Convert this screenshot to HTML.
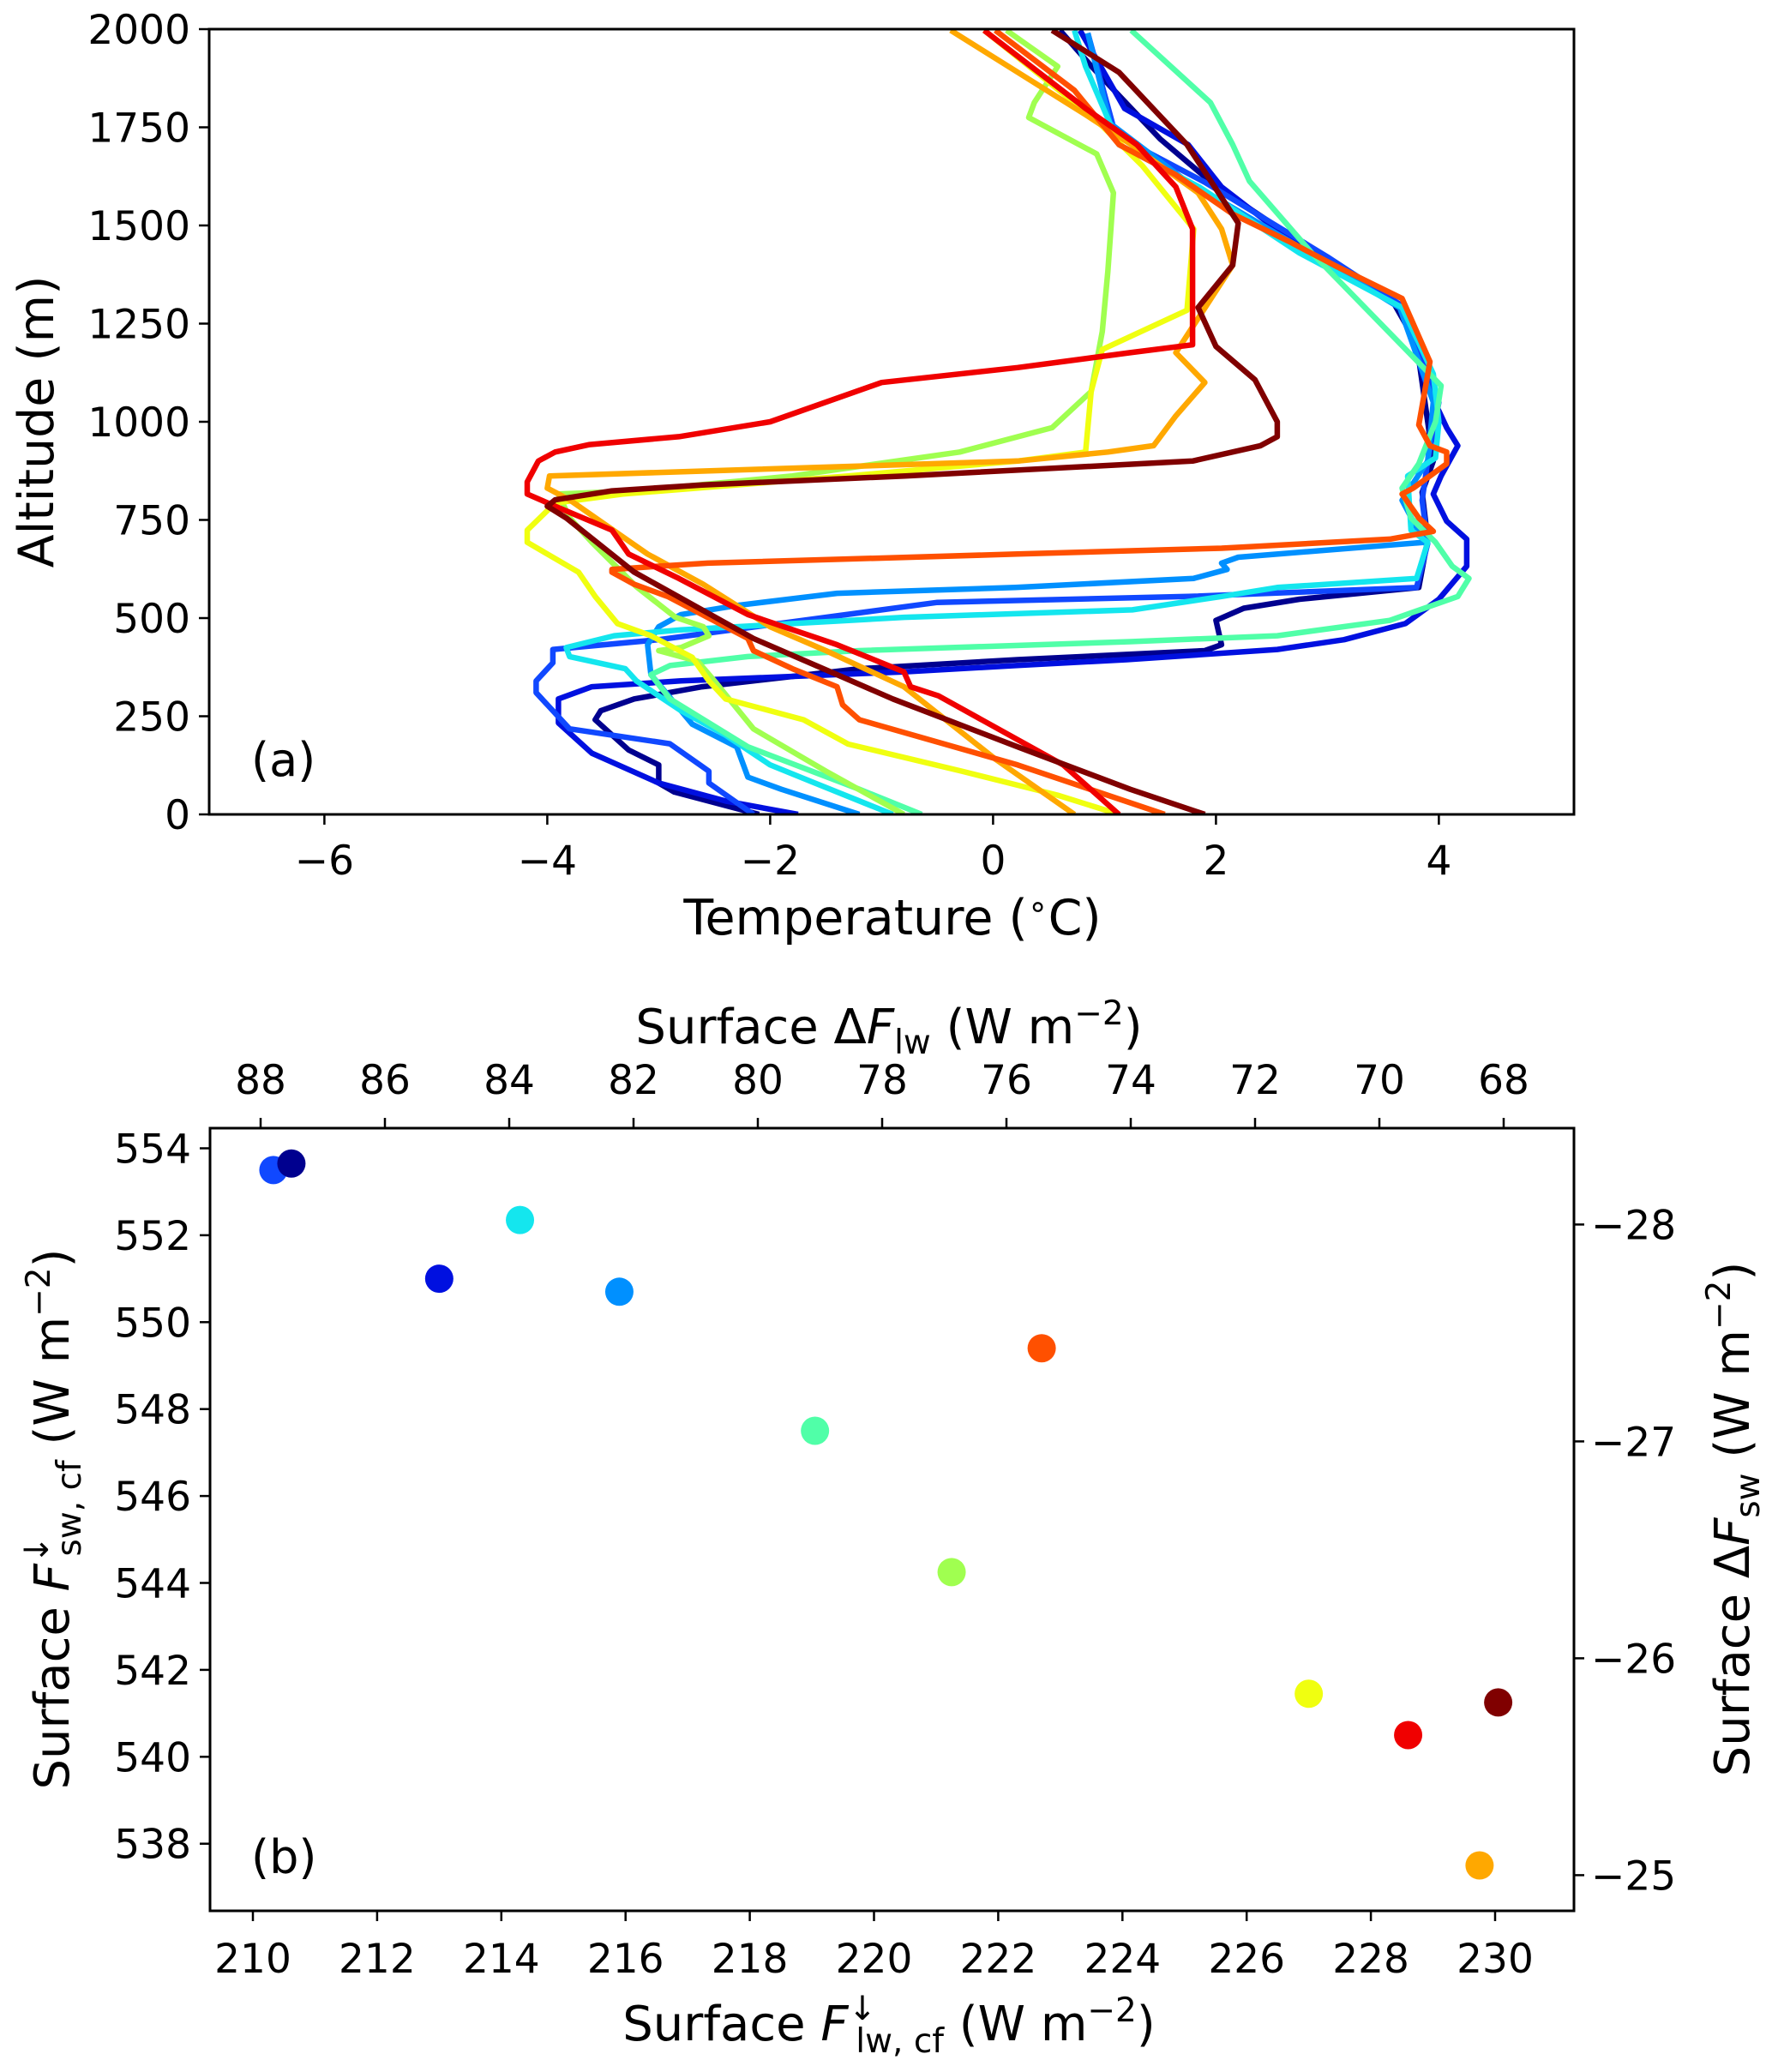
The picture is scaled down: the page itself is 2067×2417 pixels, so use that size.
<!DOCTYPE html>
<html><head><meta charset="utf-8"><style>
html,body{margin:0;padding:0;background:#fff}
svg{display:block}
text{font-family:"DejaVu Sans","Liberation Sans",sans-serif;fill:#000}
</style></head><body>
<svg id="fig" width="2067" height="2417" viewBox="0 0 2067 2417" xmlns="http://www.w3.org/2000/svg">
<g id="pa"></g>
<g id="pb"></g>
</svg>
<script>
// ---- Panel (a) data: temperature (°C), altitude (m) per profile ----
const profNavy=[[-2.1,0],[-2.86,57],[-3.0,80],[-3.0,126],[-3.27,164],[-3.57,241],[-3.52,264],[-3.22,294],[-2.61,325],[-1.2,371],[0.22,394],[1.9,417],[2.05,432],[2.0,494],[2.25,525],[2.75,548],[3.82,578],[3.9,700],[3.85,820],[3.95,900],[3.8,1200],[3.6,1300],[2.9,1430],[2.0,1600],[1.5,1720],[0.9,1900],[0.6,1997]];
const profBlue=[[-1.75,0],[-2.4,34],[-3.0,80],[-3.6,156],[-3.9,233],[-3.9,294],[-3.6,325],[-2.8,340],[-0.8,363],[0.2,379],[1.2,394],[2.55,420],[3.15,445],[3.7,486],[4.0,548],[4.25,632],[4.25,701],[4.07,747],[3.95,816],[4.02,862],[4.17,939],[4.07,985],[3.87,1107],[3.67,1291],[2.75,1445],[2.05,1598],[1.75,1706],[1.18,1798],[0.78,1997]];
const profRoyal=[[-2.15,0],[-2.55,80],[-2.55,110],[-2.9,180],[-3.8,218],[-3.95,264],[-4.1,310],[-4.1,340],[-3.95,386],[-3.95,420],[-3.0,445],[-0.5,540],[1.75,555],[3.8,578],[3.9,690],[3.85,800],[3.9,900],[4.0,1050],[3.7,1290],[3.0,1420],[1.9,1610],[1.1,1730],[0.85,1990]];
const profDodger=[[-1.2,0],[-1.9,64],[-2.2,95],[-2.3,172],[-2.7,230],[-3.07,356],[-3.1,432],[-3.0,478],[-2.8,509],[-2.3,532],[-1.4,563],[0.2,578],[1.8,601],[2.1,624],[2.05,640],[2.2,655],[3.87,693],[3.67,800],[3.9,900],[3.95,1050],[3.65,1290],[2.9,1420],[1.7,1620],[1.05,1760],[0.85,1990]];
const profCyan=[[-0.9,0],[-1.6,80],[-2.0,126],[-2.4,202],[-2.8,264],[-3.2,340],[-3.3,371],[-3.8,402],[-3.83,425],[-3.4,455],[-2.8,470],[-0.8,502],[1.25,521],[2.05,555],[2.55,578],[3.8,601],[3.9,693],[3.75,724],[3.72,862],[3.97,908],[4.0,1000],[3.95,1122],[3.67,1291],[2.75,1430],[1.85,1598],[1.13,1706],[0.83,1905],[0.73,1997]];
const profSpring=[[-0.64,0],[-1.2,64],[-2.2,172],[-2.9,294],[-3.07,356],[-2.9,379],[-2.2,402],[-1.2,417],[1.23,440],[2.55,455],[3.56,494],[4.17,555],[4.27,601],[4.12,632],[3.97,693],[3.75,755],[3.67,831],[3.82,893],[3.97,1000],[4.02,1092],[2.86,1430],[2.3,1613],[2.15,1706],[1.95,1813],[1.24,1997]];
const profLime=[[-0.8,0],[-1.5,110],[-2.15,218],[-2.5,340],[-2.65,390],[-3.0,417],[-2.8,425],[-2.55,455],[-2.6,478],[-2.85,502],[-3.2,580],[-3.6,693],[-3.8,755],[-3.9,816],[-3.2,824],[-1.8,862],[-0.3,923],[0.53,985],[0.88,1077],[0.98,1230],[1.03,1383],[1.08,1583],[0.93,1682],[0.32,1775],[0.37,1813],[0.58,1905],[0.12,1997]];
const profYellow=[[1.13,0],[0.58,49],[-0.28,110],[-1.3,179],[-1.7,241],[-2.4,294],[-2.55,340],[-2.7,400],[-3.07,455],[-3.37,486],[-3.57,555],[-3.72,617],[-4.18,693],[-4.18,724],[-3.93,793],[-3.32,816],[-1.3,862],[0.22,900],[0.83,923],[0.88,1077],[0.98,1184],[1.74,1284],[1.8,1491],[1.34,1652],[0.93,1767],[-0.08,1997]];
const profOrange=[[0.73,0],[0.02,141],[-0.8,325],[-1.5,417],[-2.0,478],[-2.6,586],[-3.1,663],[-3.8,801],[-4.0,831],[-3.98,862],[0.22,900],[1.03,923],[1.44,939],[1.64,1015],[1.9,1100],[1.64,1176],[2.15,1399],[2.05,1491],[1.84,1583],[1.24,1706],[0.83,1782],[-0.38,1997]];
const profOrangeRed=[[1.54,0],[0.22,126],[-1.2,241],[-1.35,279],[-1.4,325],[-1.8,371],[-2.15,417],[-2.2,448],[-2.92,555],[-3.22,586],[-3.42,617],[-3.42,624],[-3.0,632],[-2.56,640],[0.22,663],[2.05,678],[3.56,701],[3.95,721],[3.82,755],[3.67,816],[3.77,831],[4.07,893],[4.07,923],[3.92,939],[3.82,992],[3.92,1153],[3.67,1314],[3.06,1399],[2.65,1460],[2.15,1529],[1.64,1629],[1.13,1706],[0.73,1844],[0.02,1997]];
const profRed=[[1.13,0],[0.63,126],[-0.49,302],[-0.74,325],[-0.8,363],[-1.4,432],[-2.2,509],[-2.82,601],[-3.27,663],[-3.42,724],[-3.93,785],[-4.18,816],[-4.18,847],[-4.08,900],[-3.93,923],[-3.62,942],[-2.82,962],[-2.0,1000],[-1.0,1100],[0.22,1138],[1.23,1176],[1.79,1196],[1.79,1491],[1.64,1598],[1.29,1706],[0.83,1798],[-0.08,1997]];
const profDarkRed=[[1.9,0],[1.23,64],[0.22,172],[-0.9,294],[-1.4,356],[-2.15,448],[-3.22,617],[-3.83,755],[-4.0,785],[-3.93,801],[-3.42,824],[-2.61,839],[-0.79,862],[1.79,900],[2.4,939],[2.55,962],[2.55,1000],[2.35,1107],[2.0,1192],[1.84,1291],[2.15,1399],[2.2,1506],[1.74,1706],[1.13,1890],[0.53,1997]];
const tempTicks=[-6,-4,-2,0,2,4];
const altTicks=[0,250,500,750,1000,1250,1500,1750,2000];

// ---- Panel (b) data ----
const flwValues=[210.33,210.62,214.3,213.0,215.9,222.7,219.05,221.25,227.0,228.6,230.05,229.75];
const fswValues=[553.5,553.65,552.35,551.0,550.7,549.4,547.5,544.25,541.45,540.5,541.25,537.5];
const pointColors=["#1048ff","#00008f","#14e6ee","#0010e0","#0090ff","#ff5000","#50ffa8","#a0ff50","#f0ff10","#f00000","#800000","#ffa800"];
const flwTicks=[210,212,214,216,218,220,222,224,226,228,230];
const fswTicks=[538,540,542,544,546,548,550,552,554];
const dFlwTicks=[88,86,84,82,80,78,76,74,72,70,68];
const dFswTicks=[-28,-27,-26,-25];

const NS="http://www.w3.org/2000/svg";
function mk(parent,tag,attrs){const e=document.createElementNS(NS,tag);for(const k in attrs)e.setAttribute(k,attrs[k]);parent.appendChild(e);return e;}
const FS=47;

// Panel a
const pa=document.getElementById('pa');
const A={l:244,r:1836,t:34,b:950};
const ax=T=>1158.4+T*130;
const ay=z=>A.b-(z/2000)*(A.b-A.t);
const clipA=mk(pa,'clipPath',{id:'clipA'});mk(clipA,'rect',{x:A.l,y:A.t,width:A.r-A.l,height:A.b-A.t});
const seriesA=[[profNavy,"#00008f","profile-navy"],[profBlue,"#0010e0","profile-blue"],[profRoyal,"#1048ff","profile-royal-blue"],[profDodger,"#0090ff","profile-dodger-blue"],[profCyan,"#14e6ee","profile-cyan"],[profSpring,"#50ffa8","profile-spring-green"],[profLime,"#a0ff50","profile-lime"],[profYellow,"#f0ff10","profile-yellow"],[profOrange,"#ffa800","profile-orange"],[profOrangeRed,"#ff5000","profile-orange-red"],[profRed,"#f00000","profile-red"],[profDarkRed,"#800000","profile-dark-red"]];
const gl=mk(pa,'g',{'clip-path':'url(#clipA)'});
seriesA.forEach(s=>{
  const p=mk(gl,'polyline',{points:s[0].map(d=>ax(d[0]).toFixed(1)+','+ay(d[1]).toFixed(1)).join(' '),fill:'none',stroke:s[1],'stroke-width':6.5,'stroke-linejoin':'round'});
  
  
});
const fa=mk(pa,'rect',{x:A.l,y:A.t,width:A.r-A.l,height:A.b-A.t,fill:'none',stroke:'#000','stroke-width':3});

tempTicks.forEach(v=>{
  mk(pa,'line',{x1:ax(v),x2:ax(v),y1:A.b,y2:A.b+12,stroke:'#000','stroke-width':2.5});
  const t=mk(pa,'text',{x:ax(v),y:A.b+70,'text-anchor':'middle','font-size':FS});t.textContent=(v<0?'\u2212'+(-v):v);
  
});
altTicks.forEach(v=>{
  mk(pa,'line',{x1:A.l-12,x2:A.l,y1:ay(v),y2:ay(v),stroke:'#000','stroke-width':2.5});
  const t=mk(pa,'text',{x:A.l-22,y:ay(v)+17,'text-anchor':'end','font-size':FS});t.textContent=v;
  
});

// Panel b
const pb=document.getElementById('pb');
const B={l:245,r:1836,t:1316,b:2229};
const bx=v=>295+(v-210)*72.45;
const by=v=>1339.5+(554-v)*50.7;
const tx=v=>304+(88-v)*72.5;
const ry=v=>1428.4+(v+28)*253;
flwValues.forEach((v,i)=>{
  const c=mk(pb,'circle',{cx:bx(v),cy:by(fswValues[i]),r:16.5,fill:pointColors[i]});
  
  
});
const fb=mk(pb,'rect',{x:B.l,y:B.t,width:B.r-B.l,height:B.b-B.t,fill:'none',stroke:'#000','stroke-width':3});

flwTicks.forEach(v=>{
  mk(pb,'line',{x1:bx(v),x2:bx(v),y1:B.b,y2:B.b+12,stroke:'#000','stroke-width':2.5});
  const t=mk(pb,'text',{x:bx(v),y:B.b+72,'text-anchor':'middle','font-size':FS});t.textContent=v;
  
});
fswTicks.forEach(v=>{
  mk(pb,'line',{x1:B.l-12,x2:B.l,y1:by(v),y2:by(v),stroke:'#000','stroke-width':2.5});
  const t=mk(pb,'text',{x:B.l-22,y:by(v)+17,'text-anchor':'end','font-size':FS});t.textContent=v;
  
});
dFlwTicks.forEach(v=>{
  mk(pb,'line',{x1:tx(v),x2:tx(v),y1:B.t-12,y2:B.t,stroke:'#000','stroke-width':2.5});
  const t=mk(pb,'text',{x:tx(v),y:B.t-40,'text-anchor':'middle','font-size':FS});t.textContent=v;
  
});
dFswTicks.forEach(v=>{
  mk(pb,'line',{x1:B.r,x2:B.r+12,y1:ry(v),y2:ry(v),stroke:'#000','stroke-width':2.5});
  const t=mk(pb,'text',{x:B.r+20,y:ry(v)+17,'text-anchor':'start','font-size':FS});t.textContent='\u2212'+(-v);
  
});
</script>
<svg style="position:absolute;left:0;top:0" width="2067" height="2417">
<text x="293" y="905" font-size="54">(a)</text>
<text x="1041" y="1090" text-anchor="middle" font-size="57">Temperature (<tspan font-size="38" dy="-20">∘</tspan><tspan dy="20">C)</tspan></text>
<text transform="translate(62,492) rotate(-90)" text-anchor="middle" font-size="57">Altitude (m)</text>
<text x="293" y="2185" font-size="54">(b)</text>
<text x="1037" y="1217" text-anchor="middle" font-size="56">Surface Δ<tspan font-style="italic">F</tspan><tspan font-size="39" dy="12">lw</tspan><tspan dy="-12"> (W m</tspan><tspan font-size="39" dy="-22">−2</tspan><tspan dy="22">)</tspan></text>
<text x="1037" y="2380" text-anchor="middle" font-size="56">Surface <tspan font-style="italic">F</tspan><tspan font-size="39" dy="-24">↓</tspan><tspan font-size="39" dx="-24" dy="38">lw, cf</tspan><tspan dy="-14"> (W m</tspan><tspan font-size="39" dy="-22">−2</tspan><tspan dy="22">)</tspan></text>
<text transform="translate(80,1772) rotate(-90)" text-anchor="middle" font-size="56">Surface <tspan font-style="italic">F</tspan><tspan font-size="39" dy="-24">↓</tspan><tspan font-size="39" dx="-24" dy="38">sw, cf</tspan><tspan dy="-14"> (W m</tspan><tspan font-size="39" dy="-22">−2</tspan><tspan dy="22">)</tspan></text>
<text transform="translate(2040,1772) rotate(-90)" text-anchor="middle" font-size="56">Surface Δ<tspan font-style="italic">F</tspan><tspan font-size="39" dy="12">sw</tspan><tspan dy="-12"> (W m</tspan><tspan font-size="39" dy="-22">−2</tspan><tspan dy="22">)</tspan></text>
</svg>
</body></html>
